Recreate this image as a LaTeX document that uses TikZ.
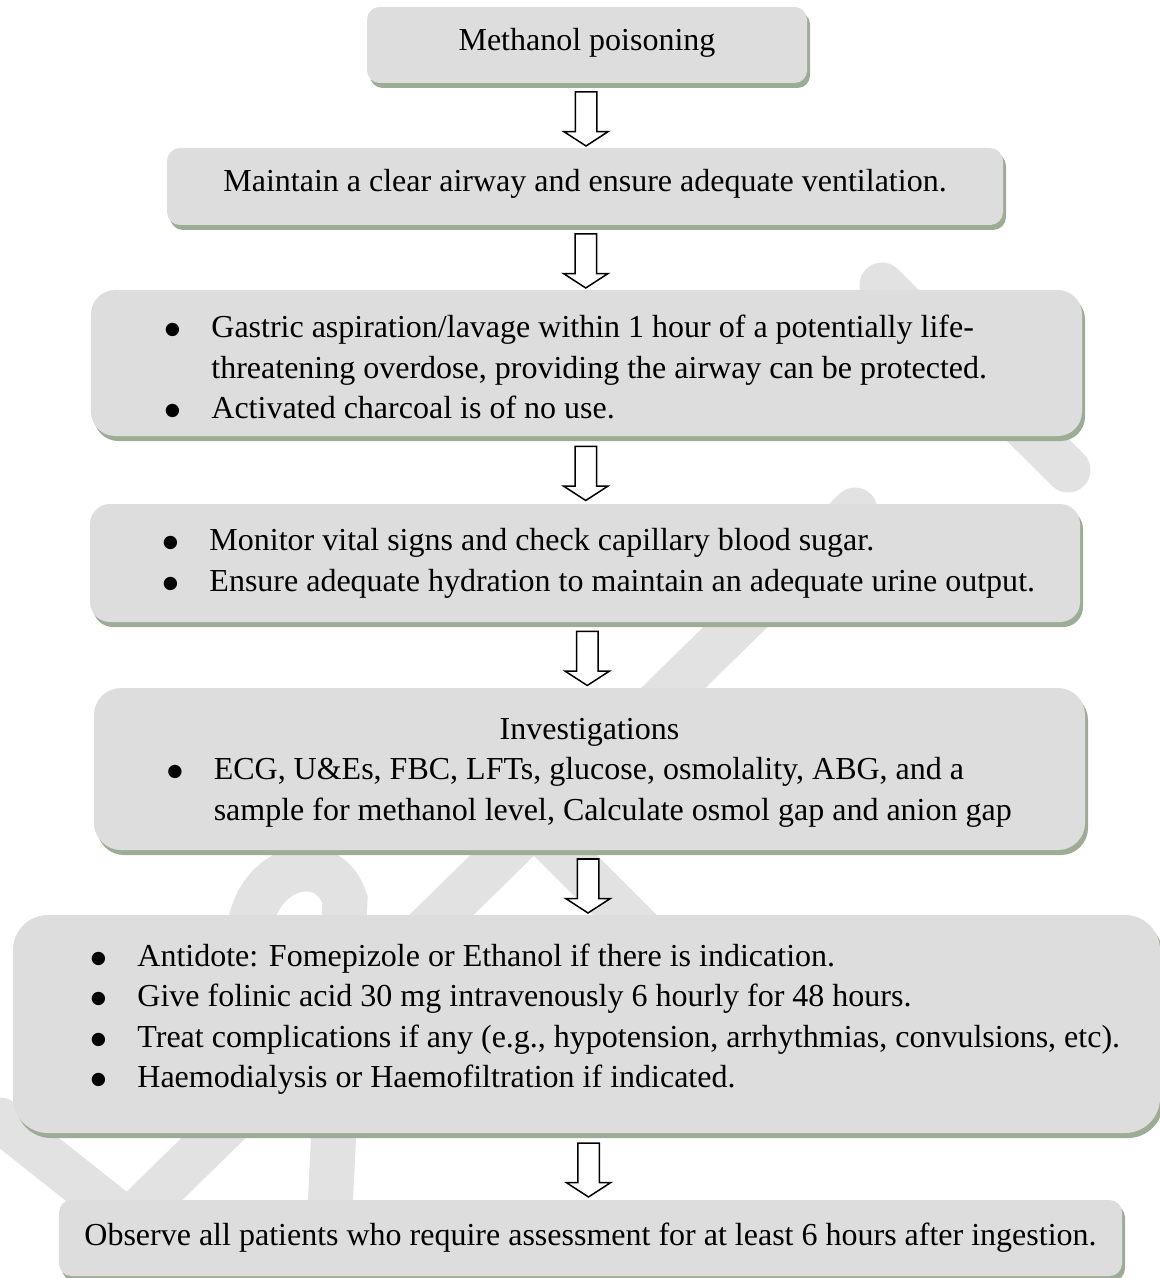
\documentclass[tikz,border=0pt]{standalone}
\usepackage{fontspec}
\setmainfont{Liberation Serif}
\newfontfamily\dotfont{DejaVu Sans}
\usepackage{xcolor}
\definecolor{boxgray}{RGB}{221,221,221}
\definecolor{shadowgreen}{RGB}{157,173,149}
\definecolor{markgray}{RGB}{226,226,226}
\usetikzlibrary{shapes.arrows, shadows, calc}

\newcommand{\bul}{\makebox[18.6pt][l]{\raisebox{1.2pt}{\dotfont\fontsize{7}{7}\selectfont ●}}}
\newcommand{\nudge}[2]{\raisebox{#1}[\height][\depth]{#2}}

\begin{document}
\begin{tikzpicture}[x=0.4pt, y=-0.4pt,
  stepbox/.style={fill=boxgray, rounded corners=#1, inner sep=0pt,
      drop shadow={shadow xshift=1.2pt, shadow yshift=-2pt, fill=shadowgreen, opacity=1},
      font=\fontsize{12.8}{16.2}\selectfont},
  stepbox/.default=5pt,
  downarrow/.style={single arrow, draw=black, fill=white, line width=0.6pt, rotate=-90,
      minimum height=21.6pt, inner xsep=0pt, inner ysep=4pt, single arrow head extend=4.6pt,
      single arrow tip angle=114},
  wmstroke/.style={draw=markgray, line width=18pt, line cap=round}]

\useasboundingbox (0,0) rectangle (1159,1278);

% faint watermark behind the boxes
\draw[wmstroke] (882,285) -- (1068,470);
\draw[wmstroke] (855,510) -- (140,1210);
\draw[wmstroke] (530,820) -- (640,930);
\draw[wmstroke] (0,1120) -- (120,1215);
\draw[wmstroke] (250,925) .. controls (262,862) and (330,850) .. (345,900) -- (330,1210);

% steps
\node[stepbox=5pt, minimum width=176pt, minimum height=30.4pt]
  (n1) at (587,45) {\nudge{0.8pt}{Methanol poisoning}};

\node[stepbox=5.2pt, minimum width=334.4pt, minimum height=30.8pt]
  (n2) at (585,186.5) {\nudge{1.2pt}{Maintain a clear airway and ensure adequate ventilation.}};

\node[stepbox=9.7pt, minimum width=396.4pt, minimum height=58.4pt]
  (n3) at (586.5,363) {\nudge{-2.8pt}{\begin{tabular}{@{}l@{}l@{}}
    \bul & Gastric aspiration/lavage within 1 hour of a potentially life-\\
         & threatening overdose, providing the airway can be protected.\\
    \bul & Activated charcoal is of no use.
  \end{tabular}}\hspace*{8.4pt}};

\node[stepbox=8pt, minimum width=396pt, minimum height=47.2pt]
  (n4) at (585,563) {\hspace*{11.2pt}\begin{tabular}{@{}l@{}l@{}}
    \bul & Monitor vital signs and check capillary blood sugar.\\
    \bul & Ensure adequate hydration to maintain an adequate urine output.
  \end{tabular}};

\node[stepbox=10.8pt, minimum width=396.4pt, minimum height=64.8pt]
  (n5) at (589.5,769) {\nudge{-1pt}{\begin{tabular}{@{}l@{}l@{}}
    \multicolumn{2}{c}{Investigations}\\
    \bul & ECG, U\&Es, FBC, LFTs, glucose, osmolality, ABG, and a\\
         & sample for methanol level, Calculate osmol gap and anion gap
  \end{tabular}}};

\node[stepbox=14pt, minimum width=458.8pt, minimum height=87.2pt]
  (n6) at (586.5,1024) {\hspace*{15.2pt}\nudge{2pt}{\begin{tabular}{@{}l@{}l@{}}
    \bul & Antidote: Fomepizole or Ethanol if there is indication.\\
    \bul & Give folinic acid 30 mg intravenously 6 hourly for 48 hours.\\
    \bul & Treat complications if any (e.g., hypotension, arrhythmias, convulsions, etc).\\
    \bul & Haemodialysis or Haemofiltration if indicated.
  \end{tabular}}};

\node[stepbox=5pt, minimum width=425.2pt, minimum height=30.4pt]
  (n7) at (590.5,1238) {Observe all patients who require assessment for at least 6 hours after ingestion.};

% block arrows between steps
\node[downarrow] (a1) at ($(n1.south)!0.5!(n2.north)$) {};
\node[downarrow] (a2) at ($(n2.south)!0.5!(n3.north)$) {};
\node[downarrow] (a3) at ($(n3.south)!0.5!(n4.north)$) {};
\node[downarrow] (a4) at ($(n4.south)!0.5!(n5.north)$) {};
\node[downarrow] (a5) at ($(n5.south)!0.5!(n6.north)$) {};
\node[downarrow] (a6) at ($(n6.south)!0.5!(n7.north)$) {};

\end{tikzpicture}
\end{document}
